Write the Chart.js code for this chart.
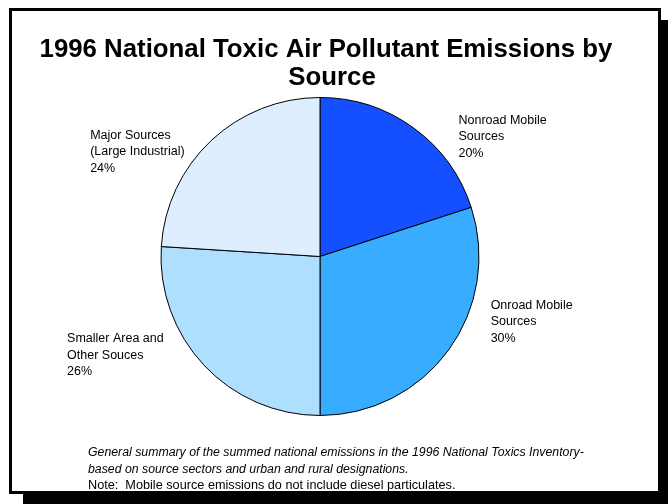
<!DOCTYPE html>
<html>
<head>
<meta charset="utf-8">
<script src="https://cdn.jsdelivr.net/npm/chart.js@4/dist/chart.umd.min.js"></script>
<style>
  html, body { margin: 0; padding: 0; background: #fff; }
  canvas { display: block; }
</style>
</head>
<body>
<canvas id="chart" width="668" height="504"></canvas>
<script>
var sources = [
    ['Nonroad Mobile', 'Sources'],
    ['Onroad Mobile', 'Sources'],
    ['Smaller Area and', 'Other Souces'],
    ['Major Sources', '(Large Industrial)']
];
var shares = [20, 30, 26, 24];
var sliceColors = ['#1450ff', '#38acff', '#aedfff', '#ddeffe'];

var titleLines = ['1996 National Toxic Air Pollutant Emissions by', 'Source'];
var noteLines = [
    'General summary of the summed national emissions in the 1996 National Toxics Inventory-',
    'based on source sectors and urban and rural designations.',
    'Note:  Mobile source emissions do not include diesel particulates.'
];

var FONT = '"Liberation Sans", Arial, sans-serif';

// label block offset from the slice's outer edge at its mid angle
var labelOffsets = [[45, -4], [42, -41], [-137, -23], [-121, -2]];

var framePlugin = {
    id: 'frame',
    beforeDraw: function(chart) {
        var c = chart.ctx;
        c.save();
        c.fillStyle = '#000';
        c.fillRect(23, 20, 645, 484);   // drop shadow
        c.fillRect(9, 8, 652, 486);     // border
        c.fillStyle = '#fff';
        c.fillRect(12, 11, 646, 480);
        c.restore();
    },
    afterDraw: function(chart) {
        var c = chart.ctx;
        c.save();
        c.fillStyle = '#000';
        c.textAlign = 'center';
        c.textBaseline = 'alphabetic';
        c.font = 'bold 25.8px ' + FONT;
        c.fillText(titleLines[0], 326, 57);
        c.fillText(titleLines[1], 332, 85);

        c.textAlign = 'left';
        c.font = 'italic 12.3px ' + FONT;
        c.fillText(noteLines[0], 88, 456);
        c.fillText(noteLines[1], 88, 472.5);
        c.font = '12.7px ' + FONT;
        c.fillText(noteLines[2], 88, 489);
        c.restore();
    }
};

var sliceLabelPlugin = {
    id: 'sliceLabels',
    afterDatasetsDraw: function(chart) {
        var c = chart.ctx;
        var meta = chart.getDatasetMeta(0);
        c.save();
        c.fillStyle = '#000';
        c.font = '12.5px ' + FONT;
        c.textAlign = 'left';
        c.textBaseline = 'alphabetic';
        meta.data.forEach(function(arc, i) {
            var p = arc.getProps(['x', 'y', 'startAngle', 'endAngle', 'outerRadius'], true);
            var mid = (p.startAngle + p.endAngle) / 2;
            var ax = p.x + Math.cos(mid) * p.outerRadius + labelOffsets[i][0];
            var ay = p.y + Math.sin(mid) * p.outerRadius + labelOffsets[i][1];
            var lines = sources[i].concat([shares[i] + '%']);
            lines.forEach(function(t, k) {
                c.fillText(t, ax, ay + k * 16.5);
            });
        });
        c.restore();
    }
};

var ctx = document.getElementById('chart').getContext('2d');
var chart = new Chart(ctx, {
    type: 'pie',
    data: {
        labels: sources.map(function(s) { return s.join(' '); }),
        datasets: [{
            data: shares,
            backgroundColor: sliceColors,
            borderColor: '#000',
            borderWidth: 1
        }]
    },
    options: {
        responsive: false,
        animation: false,
        layout: {
            padding: { left: 158, right: 186, top: 97, bottom: 88 }
        },
        plugins: {
            legend: { display: false },
            title: { display: false },
            tooltip: { enabled: false }
        }
    },
    plugins: [framePlugin, sliceLabelPlugin]
});
</script>
</body>
</html>
